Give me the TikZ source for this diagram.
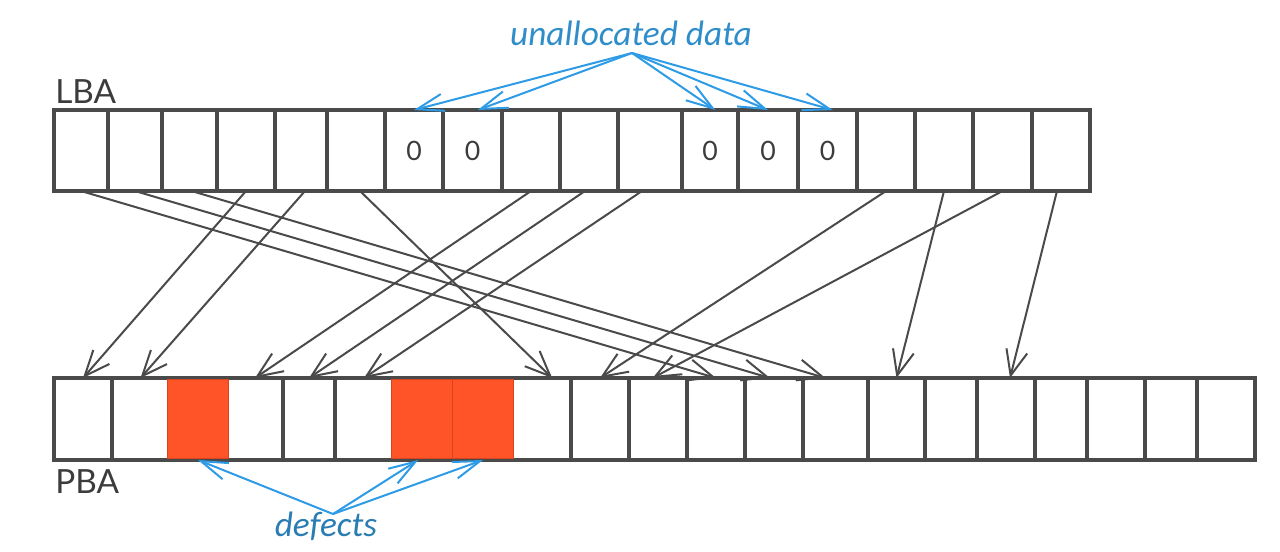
\documentclass[tikz,border=0pt]{standalone}
\usepackage{fontspec}
\setmainfont{Lato}
\newfontfamily\calib{Carlito}
\usetikzlibrary{arrows.meta}
\definecolor{boxgray}{HTML}{4A4A4A}
\definecolor{txtgray}{HTML}{3C3C3C}
\definecolor{defred}{HTML}{FF5328}
\definecolor{defredline}{HTML}{D9441F}
\definecolor{arrblue}{HTML}{2E9BE6}
\definecolor{uablue}{HTML}{2F8EC9}
\definecolor{defblue}{HTML}{2A7DB3}
\begin{document}
\begin{tikzpicture}[x=0.75pt,y=-0.75pt,
  lcell/.style={draw=boxgray,line width=2.5pt,inner sep=0pt,outer sep=0pt,anchor=north west,minimum height=60.75pt,font=\fontsize{20}{20}\selectfont,text=txtgray},
  pcell/.style={lcell,minimum height=61.5pt},
  conn/.style={draw=boxgray,line width=1.5pt,-{Straight Barb[length=19pt,width=16pt]}},
  bconn/.style={draw=arrblue,line width=1.5pt,-{Straight Barb[length=20pt,width=13pt]}},
  rowlabel/.style={anchor=base west,inner sep=0pt,text=txtgray,font=\fontsize{25}{25}\selectfont},
  defect/.style={fill=defred,draw=defredline,line width=0.5pt},
  bluelabel/.style={anchor=base,inner sep=0pt,font=\calib\itshape\fontsize{26.5}{26.5}\selectfont}
]
\useasboundingbox (0,0) rectangle (1280,551);

% LBA row
\foreach \a/\b/\t [count=\i] in {54/108/{},108/162/{},162/217/{},217/275/{},275/327/{},327/385/{},385/443/0,443/502/0,502/560/{},560/618/{},618/682/{},682/738/0,738/798/0,798/857/0,857/915/{},915/973/{},973/1032/{},1032/1090/{}}{
  \pgfmathsetmacro\w{(\b-\a)*0.75}
  \node[lcell,minimum width=\w pt] (l\i) at (\a,110) {\t};
}

% PBA row
\foreach \a/\b [count=\i] in {54/112,112/169,169/227,227/283,283/335,335/393,393/454,454/512,512/571,571/629,629/687,687/745,745/803,803/868,868/925,925/977,977/1035,1035/1087,1087/1145,1145/1197,1197/1255}{
  \pgfmathsetmacro\w{(\b-\a)*0.75}
  \node[pcell,minimum width=\w pt] (p\i) at (\a,378) {};
}

% defective blocks
\foreach \c in {3,7,8}{
  \filldraw[defect] ([shift={(-1.3pt,-1.3pt)}]p\c.north west) rectangle ([shift={(1.3pt,1.3pt)}]p\c.south east);
}

% labels
\node[rowlabel] (lba) at (55,103) {LBA};
\node[rowlabel] (pba) at (55,493) {PBA};
\node[bluelabel,text=uablue] (ua) at (631,45) {unallocated data};
\node[bluelabel,text=defblue] (def) at (326,536) {defects};
\coordinate (uaO) at (632,53);
\coordinate (defO) at (333,514);

% mapping LBA -> PBA
\draw[conn] (l1.south) -- (p12.north);
\draw[conn] (l2.south) -- ([xshift=-3pt]p13.north);
\draw[conn] ([xshift=1.5pt]l3.south) -- ([xshift=-7.5pt]p14.north);
\draw[conn] (l4.south) -- (p1.north);
\draw[conn] ([xshift=3pt]l5.south) -- (p2.north);
\draw[conn] ([xshift=3pt]l6.south) -- ([xshift=8pt]p9.north);
\draw[conn] (l9.south) -- (p4.north);
\draw[conn] ([xshift=-3pt]l10.south) -- (p5.north);
\draw[conn] ([xshift=-6pt]l11.south) -- (p6.north);
\draw[conn] (l15.south) -- (p10.north);
\draw[conn] (l17.south) -- ([xshift=-4pt]p11.north);
\draw[conn] (l16.south) -- (p15.north);
\draw[conn] ([xshift=-3pt]l18.south) -- ([xshift=3pt]p17.north);

% unallocated data pointers
\draw[bconn] (uaO) -- (l7.north);
\draw[bconn] (uaO) -- ([xshift=4pt]l8.north);
\draw[bconn] (uaO) -- ([xshift=4pt]l12.north);
\draw[bconn] (uaO) -- (l13.north);
\draw[bconn] (uaO) -- ([xshift=4pt]l14.north);

% defect pointers
\draw[bconn] (defO) -- (p3.south);
\draw[bconn] (defO) -- ([xshift=-4pt]p7.south);
\draw[bconn] (defO) -- (p8.south);
\end{tikzpicture}
\end{document}
